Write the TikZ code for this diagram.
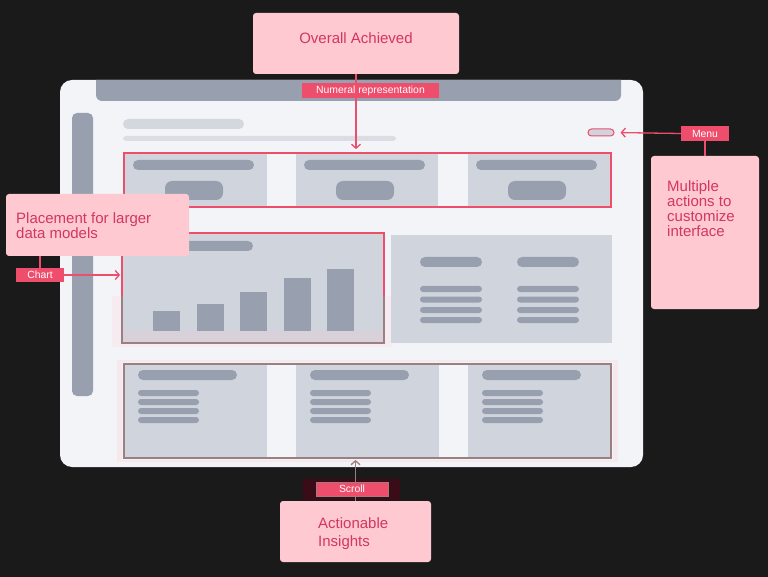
\documentclass[tikz,border=0pt]{standalone}
\usepackage{fontspec}
\setmainfont{Liberation Sans}
\usetikzlibrary{arrows.meta,fit,positioning}

\definecolor{bgdark}{HTML}{1B1A1B}
\definecolor{screen}{HTML}{F3F4F8}
\definecolor{slate}{HTML}{98A0B0}
\definecolor{cardgray}{HTML}{D0D4DC}
\definecolor{skel}{HTML}{D3D7DE}
\definecolor{hilite}{HTML}{EE4D6C}
\definecolor{blush}{HTML}{FFC9D2}
\definecolor{rosetext}{HTML}{D2375D}
\definecolor{mauve}{HTML}{9C7F80}
\definecolor{wine}{HTML}{3A0C17}

\begin{document}
\begin{tikzpicture}[x=1pt, y=-1pt,
  arrow/.style={-{Straight Barb[length=4pt,width=9pt]}, line width=1.3pt, hilite},
  link/.style={line width=1.3pt, hilite},
  callout/.style={fill=blush, rounded corners=3pt, inner sep=0pt},
  badge/.style={fill=hilite, text=white, inner sep=0pt, font=\fontsize{10.4}{12}\selectfont},
  hlframe/.style={draw=hilite, line width=1.8pt, inner sep=0pt},
  note/.style={text=rosetext, align=left, inner sep=0pt, font=\fontsize{15}{15}\selectfont}
]
  \useasboundingbox[fill=bgdark] (0,0) rectangle (768,577);

  % tablet screen
  \fill[screen, rounded corners=12pt] (60,80) rectangle (643,467);
  \begin{scope}
    \clip[rounded corners=12pt] (60,80) rectangle (643,467);
    \fill[slate, rounded corners=6pt] (96,60) rectangle (621,101);
  \end{scope}
  \fill[slate, rounded corners=5pt] (72,113) rectangle (93,396);
  \fill[skel, rounded corners=5pt] (123,119) rectangle (244,129);
  \fill[skel!80!screen, rounded corners=3pt] (123,136) rectangle (396,141);
  \node[fill=cardgray, draw=hilite, line width=1pt, rounded corners=3.5pt,
    inner sep=0pt, fit={(588,129) (614,136)}] (menupill) {};

  % top row of cards
  \foreach \x in {125,296,468} {
    \fill[cardgray] (\x,153) rectangle ++(142,54);
    \fill[slate, rounded corners=5pt] (\x+8,160) rectangle ++(121,10);
    \fill[slate, rounded corners=7pt] (\x+40,181) rectangle ++(58,19);
  }
  \node[hlframe, fit={(124,153) (611,207)}] (toprow) {};

  % chart
  \fill[blush, opacity=0.2] (112,296) rectangle (392,347);
  \fill[cardgray] (122,233) rectangle (384,343);
  \fill[blush, opacity=0.2] (122,331) rectangle (384,343);
  \fill[slate, rounded corners=5pt] (133,241) rectangle (253,251);
  \foreach \x/\h in {153/311, 197/304, 240/292, 284/278, 327/269}
    \fill[slate] (\x,\h) rectangle (\x+27,331);
  \node[hlframe, fit={(122,233) (384,343)}] (chartfr) {};
  \draw[mauve, line width=1.8pt] (122,296) -- (122,343) -- (384,343) -- (384,296);

  % list panel
  \fill[cardgray] (391,235) rectangle (612,343);
  \foreach \x in {420,517} {
    \fill[slate, rounded corners=5pt] (\x,257) rectangle ++(62,10);
    \foreach \y in {286,296.5,307,317}
      \fill[slate, rounded corners=3pt] (\x,\y) rectangle ++(62,6);
  }

  % bottom row of cards
  \fill[blush, opacity=0.25] (117,360) rectangle (618,462);
  \fill[screen] (122,362) rectangle (613,460);
  \foreach \x in {124,296,468} {
    \fill[cardgray] (\x,364) rectangle ++(143,94);
    \fill[slate, rounded corners=5pt] (\x+14,370) rectangle ++(99,10);
    \foreach \y in {390,399,408,417}
      \fill[slate, rounded corners=3pt] (\x+14,\y) rectangle ++(61,6);
  }
  \node[hlframe, draw=mauve, fit={(124,364) (611,458)}] (botrow) {};

  % callouts
  \node[callout, fit={(253,13) (459,74)}] (ach) {};
  \node[note, anchor=base] (achtxt) at (356,44) {Overall Achieved};
  \node[callout, fit={(651,156) (759,309)}] (menubox) {};
  \node[note, anchor=north west] (menutxt) at (667,180)
    {Multiple\\actions to\\customize\\interface};
  \node[callout, fit={(6,194) (189,256)}] (chartbox) {};
  \node[note, anchor=north west] (charttxt) at (16,212)
    {Placement for larger\\data models};
  \node[callout, fit={(280,501) (431,562)}] (actbox) {};
  \node[note, anchor=north west, font=\fontsize{15}{18.5}\selectfont] (acttxt)
    at (318,517) {Actionable\\Insights};

  % connectors and tags
  \draw[arrow, shorten >=3pt] (ach.south) -- (ach.south |- toprow.north);
  \node[badge, minimum width=137pt, minimum height=15pt] (numtag) at (370.5,91)
    {Numeral representation};

  \node[badge, minimum width=48pt, minimum height=15pt] (menutag) at (705,133.5) {Menu};
  \draw[arrow, shorten >=6pt] (menutag.west) -- (menupill.east);
  \draw[link] (menutag.south) -- (menutag.south |- menubox.north);

  \node[badge, minimum width=48pt, minimum height=14pt] (charttag) at (40,275) {Chart};
  \draw[link] (charttag.north) -- (charttag.north |- chartbox.south);
  \draw[arrow, shorten >=1pt] (charttag.east) -- (charttag.east -| chartfr.west);

  \fill[wine] (303,479) rectangle (400,500);
  \draw[arrow, mauve, shorten >=1pt] (actbox.north) -- (actbox.north |- botrow.south);
  \node[badge, draw=mauve, line width=0.8pt, minimum width=72pt, minimum height=14pt]
    (scrolltag) at (352,489) {Scroll};
\end{tikzpicture}
\end{document}
